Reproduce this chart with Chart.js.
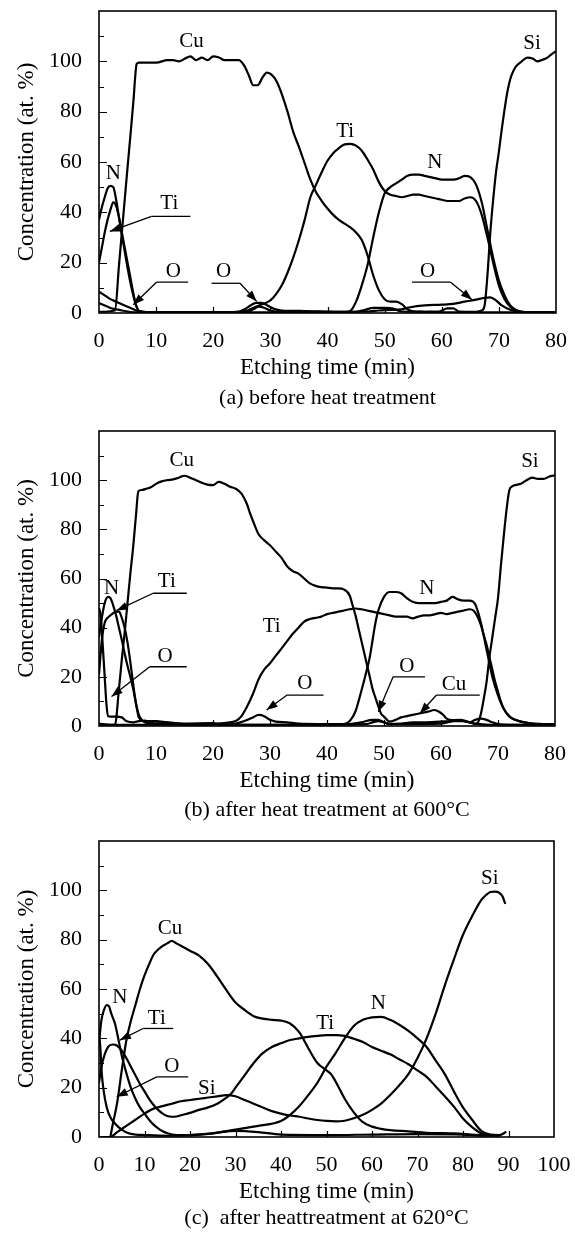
<!DOCTYPE html>
<html><head><meta charset="utf-8">
<script src="https://cdn.jsdelivr.net/npm/chart.js@4.4.1/dist/chart.umd.min.js"></script>
<style>
html,body{margin:0;padding:0;background:#fff;}
.p{position:absolute;left:0;width:575px;}
canvas{display:block;}
</style></head><body>
<div class="p" style="top:0;height:410px"><canvas id="ca" width="575" height="410"></canvas></div>
<div class="p" style="top:410px;height:413px"><canvas id="cb" width="575" height="413"></canvas></div>
<div class="p" style="top:823px;height:414px"><canvas id="cc" width="575" height="414"></canvas></div>
<script>
// ---------- Panel (a): before heat treatment  [time (min), at.%] ----------
const aCu = [[0,0.5],[2.8,1],[3.5,19],[4,32],[4.5,45],[5,58],[5.5,70.5],[6,83.5],[6.6,99],[7,99.5],[8,99.5],[10,99.5],[12,100.5],[13,100.5],[14,100],[15,101],[16,102],[17,100.5],[18,101.5],[19,100.5],[20,102],[21,101.5],[22,100.5],[23,100.5],[24.5,100.5],[25.5,98],[26.3,94],[27,90.5],[27.8,90.5],[28.6,93.5],[29.4,95.5],[30.3,94.5],[31.1,92],[32,87],[33,80],[34,72],[35,66],[36,59.5],[37,53],[38,48],[39,44.5],[40,41.5],[41,39],[42,37],[43,35.5],[44,34],[45,32],[46,29],[47,23],[48,15],[49,9],[50,5.5],[51,4.5],[52,4.5],[53,3.5],[54,1.5],[55,0.7],[57,0.5],[60,0.3],[70,0.3],[80,0.3]];
const aN = [[0,37],[0.5,42],[1,46],[1.5,49.5],[2,50.5],[2.5,50],[3,45],[3.5,38],[4,31],[4.5,24.5],[5,18],[5.5,12],[6,7],[6.5,3],[7,0.8],[8,0.3],[15,0.3],[25,0.3],[35,0.3],[43,0.3],[44,0.8],[45,4.5],[46,11],[47,19],[48,30],[49,40],[50,47.5],[51,50],[52,51.5],[53,53],[54,54.5],[55,55],[56,55],[57,54.5],[58,54],[59,53.5],[60,53],[61,53],[62,53],[63,53.5],[64,54.5],[65,54],[66,51],[67,44],[68,33],[69,22],[70,13],[71,7],[72,3],[73,1.2],[74,0.5],[77,0.3],[80,0.3]];
const aTi = [[0,20],[0.5,26],[1,32],[1.5,37],[2,41],[2.5,44],[3,42.5],[3.5,38],[4,32],[4.5,26],[5,20],[5.5,14],[6,8],[6.5,3],[7,0.8],[10,0.3],[20,0.3],[25,0.5],[26,1],[27,2],[28,3],[29,3.8],[30,5],[31,7.5],[32,11],[33,16],[34,22],[35,29],[36,37],[37,46],[38,51],[39,56],[40,60.5],[41,63.5],[42,65.5],[43,67],[44,67.2],[45,66.5],[46,64.5],[47,61],[48,57],[49,52],[50,48.5],[51,47],[52,46.5],[53,46],[54,46.5],[55,47],[56,47],[57,46.5],[58,46],[59,45.5],[60,45],[61,44.5],[62,44.5],[63,44.5],[64,45.5],[65,46],[66,44.5],[67,39],[68,30],[69,20],[70,11],[71,5.5],[72,2.5],[73,1],[74,0.5],[77,0.3],[80,0.3]];
const aSi = [[0,4],[1,3],[2,2],[3,1.5],[4,1],[5,0.6],[6,0.3],[20,0.3],[26,0.5],[27,1.5],[28,2.5],[29,2],[30,1],[32,0.5],[45,0.5],[46.5,1.2],[48,2],[50,2],[51.5,1.8],[52.5,0.8],[54,0.5],[59.5,0.6],[61,1.8],[62,1.8],[63,0.6],[66,0.5],[67,1],[67.5,3],[68,15],[68.5,32],[69,45],[69.5,56],[70,64],[70.5,73],[71,81],[71.5,88],[72,93],[72.5,96],[73,98],[74,100],[75,101.5],[76,101],[76.7,100],[77.5,100.5],[78.5,101.5],[79.3,103],[80,104]];
const aO = [[0,8.5],[1,7],[2,5.5],[3,4.5],[4,3.5],[5,2.5],[6,1.5],[7,0.6],[10,0.3],[22,0.3],[24.5,0.6],[25.5,1.5],[26.5,3],[27.5,4],[28.5,4],[29.5,3],[30.5,1.8],[32,1],[36,0.8],[42,0.5],[47,0.6],[49,1],[51,1.2],[53,1.5],[54.5,2.3],[57,3],[60,3.3],[62,3.6],[64,4.5],[66,5.3],[67.5,6],[68.5,6.2],[69.5,5],[70.5,3],[72,1.3],[73.5,0.5],[80,0.3]];

// ---------- Panel (b): after heat treatment at 600°C ----------
const bN = [[0,36],[0.5,44],[1,50],[1.6,52.5],[2,52],[2.5,49],[3,45],[3.5,40],[4,35],[4.5,29.5],[5,24.5],[5.5,20],[6,15],[6.5,9],[7,4.5],[7.5,2.5],[8,1.5],[9,1],[12,0.8],[20,0.5],[30,0.5],[40,0.5],[43,0.8],[44,2],[45,6],[46,14],[47,23],[47.5,28],[48,35],[48.5,42],[49,47],[50,52.5],[51,54.5],[52,54.5],[53,54],[54,52],[55,50.5],[56,50],[57,50],[58,50],[59,50],[60,50.5],[61,51],[62,52.5],[63,51.5],[64,51],[65,51],[66,49.5],[67,42],[68,31],[69,20],[70,12.5],[71,7],[72,3.8],[73,2.5],[74,1.8],[76,1],[80,0.8]];
const bTi = [[0,21],[0.5,35],[1,42],[1.5,44],[2,45],[3,46.5],[3.5,46.5],[4,44],[4.5,40],[5,34],[5.5,26],[6,17],[6.5,9],[7,3.5],[8,2],[10,2],[12,1.5],[15,1],[20,1],[23,1.5],[24,2],[25,4],[26,8],[27,13],[28,19],[29,23],[30,25.5],[31,28.5],[32,31.5],[33,34.5],[34,37.5],[35,40],[36,42.5],[37,43.5],[38,44],[39,44.5],[40,45.5],[41,46],[42,46.5],[43,47],[44,47.5],[45,47.8],[46,47.5],[47,47],[48,46.5],[49,46],[50,45.5],[51,45],[52,44.5],[54,44.5],[55,43.8],[56,44.5],[57,45],[58,45],[59,45.5],[60,46],[61,45.5],[62,46],[63,46.5],[64,47],[65,47.5],[65.7,47],[66.5,44],[67,41],[67.5,37],[68,33],[68.5,28],[69,23],[69.5,18],[70,14],[70.5,10],[71,7],[72,4],[73,2.5],[74,1.8],[76,1],[80,0.8]];
const bCu = [[0,0.5],[2.8,0.5],[3.5,15],[4,27],[4.5,38],[5,50],[5.5,62],[6,73],[6.5,86],[6.9,95.5],[7.5,96],[8.4,96.6],[9,97],[10,98.5],[11,99.5],[12,100],[13,100.3],[14,101],[15,101.8],[16,101],[17,100],[18,99],[19,98.2],[20,98],[21,99.3],[22,98.5],[23,97.3],[24,96.5],[25,94.5],[25.5,92.5],[26,90],[26.5,86.5],[27,83.5],[28,78],[29,75.5],[30,73.5],[31,71],[32,68.5],[33,65],[34,63],[35,62],[36,60],[37,58],[38,57],[39,56.5],[40,56.3],[41,56],[42,56],[43,55.5],[44,53],[44.5,49],[45,45],[45.5,40],[46,35],[46.5,30],[47,25],[47.5,20],[48,15],[48.5,11.5],[49,8],[49.5,5],[50,3.8],[51,1.8],[52,2.5],[53,3.5],[54,4],[55,4.5],[56,5],[57,5.5],[58,6],[58.7,6.5],[59.5,6],[60.4,4.5],[61,3],[62,2.4],[63,2.5],[64,2],[66,1],[70,0.5],[80,0.5]];
const bSi = [[0,1],[2,0.5],[20,0.5],[40,0.5],[47,0.8],[48,1.5],[49,2],[50,1.5],[51,0.8],[60,1],[62,2],[63.5,2.5],[65,1.5],[66,0.8],[66.5,1.5],[67,5],[67.5,11],[68,18],[68.5,28],[69,36],[69.5,44],[70,52],[70.5,65],[71,77],[71.5,88],[72,96],[72.5,97.5],[73,98],[74,98.5],[75,100],[76,101],[77,100.5],[78,100.5],[79,101.5],[80,102]];
const bO = [[0,48],[0.3,45],[0.6,35],[1,20],[1.3,9],[1.6,4],[2,3.8],[3,3.8],[4,3.5],[4.5,2.5],[5,1.8],[6,1.5],[7,2],[8,2.2],[9,1.5],[10,1],[12,1.5],[13,1],[15,0.8],[20,1.2],[21,0.5],[24,1],[26,2.5],[27,3.5],[28,4.5],[29,4],[30,2.5],[31,1.8],[33,1.5],[35,1],[40,0.8],[44,0.8],[46,1.5],[48,2.5],[49,2.5],[50,1.5],[51,0.8],[53,1],[55,1.5],[57,1.5],[60,1.8],[62,2],[64,2],[65,1.5],[66,2.5],[67,3],[68,2.5],[69,1.5],[70,0.8],[72,0.5],[80,0.5]];

// ---------- Panel (c): after heat treatment at 620°C ----------
const cN = [[0,38],[0.5,47],[1,51],[1.7,53.5],[2.2,53],[2.7,50],[3.5,46],[4,42],[5,33],[6,26],[7,20],[8,15.5],[9,12],[10,9.5],[11,7],[12,5],[13,3.5],[14,2.3],[15,1.5],[17,0.8],[20,0.8],[25,1.5],[30,3],[35,4.5],[40,6.5],[42,9],[44,12.5],[46,17],[48,22],[50,28.5],[52,34],[54,40],[56,45],[58,47.5],[60,48.5],[62,48.7],[64,47.5],[66,45.5],[68,43],[70,40],[72,36.5],[74,31],[76,25.5],[78,18.5],[80,12],[82,7],[84,2.5],[86,1],[88,0.8],[89,1.5],[89.5,2.2]];
const cTi = [[0,22],[0.5,28],[1,32],[2,36.5],[3,37.5],[4,37],[5,35],[6,32],[7,28.5],[8,25],[9,21.5],[10,18.5],[11,15.5],[12,13],[13,11],[14,9.5],[15,8.5],[16,8.2],[17,8.3],[18,8.8],[20,9.8],[22,11],[24,12],[26,13.5],[28,16],[29,17.5],[30,20],[32,25],[34,30],[36,34],[38,36.5],[40,38],[42,39.3],[44,40],[46,40.6],[48,41],[50,41.3],[52,41.3],[54,41],[56,39.8],[58,38.5],[60,36.5],[62,35],[64,33.5],[66,31.5],[68,29.5],[70,27],[72,24.4],[74,20.5],[76,16.5],[78,12.3],[80,7.5],[82,4],[84,1.5],[86,0.8],[88,0.8]];
const cCu = [[0,0],[2.4,0],[3,5],[4,14],[5,27],[6,39],[7,47],[8,53.5],[9,60],[10,65.5],[11,70],[12,74],[13,76],[14,77.5],[15,78.5],[16,79.5],[17,78.5],[18,77.5],[19,76.5],[20,75.5],[22,73.5],[24,70],[26,65],[28,59.5],[30,54.5],[32,51.5],[34,49],[36,48],[38,47.5],[40,47.2],[42,46],[44,42.5],[46,36],[48,30],[50,27],[51,25.5],[52,22.5],[54,15.5],[56,10],[58,6],[60,4.2],[62,3.3],[64,2.8],[68,2.3],[72,1.7],[78,1.5],[84,0.8],[88,0.8]];
const cSi = [[0,0],[2.4,0],[4,2],[6,4.5],[8,7],[10,9.5],[12,11.5],[14,12.5],[16,13.5],[18,14.5],[20,15],[22,15.5],[24,16],[26,16.5],[28,17],[30,16.5],[32,15],[34,13.5],[36,12],[38,10.5],[40,9.5],[42,8.7],[44,8.2],[46,7.5],[48,6.9],[50,6.5],[52,6.3],[54,6.6],[56,7.6],[58,9],[60,11],[62,13.5],[64,17],[66,21],[68,25.5],[70,32],[72,40],[74,50],[76,61.5],[78,72],[80,82],[82,89.5],[84,96],[85,98],[86,99.3],[87,99.5],[88,99],[88.7,97.5],[89.3,94.5]];
const cO = [[0,42],[0.3,36],[0.6,26],[1,19],[1.7,12],[2.5,8],[3.5,5.5],[5,3],[6.5,1.5],[8,1],[10,0.8],[15,0.5],[20,0.8],[25,1.5],[30,2.5],[35,2],[40,1],[50,0.8],[60,1],[70,1.2],[80,1],[85,0.5],[88,0.5]];

// ---------- Text ----------
const xTitle = 'Etching time (min)';
const yTitle = 'Concentration (at. %)';
const captions = ['(a) before heat treatment', '(b) after heat treatment at 600°C', '(c)  after heattreatment at 620°C'];

// Curve labels: text, anchor [time, at.%], optional underline [t1, t2, at.%], optional arrow tip [time, at.%]
const notesA = [
  {text:'Cu', at:[16.2,108]}, {text:'Si', at:[75.8,107]}, {text:'Ti', at:[43.1,72]}, {text:'N', at:[58.8,60]},
  {text:'N', at:[2.5,55.5]},
  {text:'Ti', at:[12.3,43.5], under:[9.2,16.0,38.4], from:'l', tip:[1.9,32.4]},
  {text:'O', at:[13,16.5], under:[10.1,15.6,12.3], from:'l', tip:[6,3.3]},
  {text:'O', at:[21.8,16.5], under:[19.7,24.7,11.8], from:'r', tip:[27.6,4.6]},
  {text:'O', at:[57.5,16.5], under:[54.8,61.5,12.3], from:'r', tip:[65.3,5.3]}
];
const notesB = [
  {text:'Cu', at:[14.5,108]}, {text:'Si', at:[75.6,107.5]}, {text:'N', at:[2.2,56]},
  {text:'Ti', at:[11.9,58.7], under:[9.5,15.4,54], from:'l', tip:[3.1,47]},
  {text:'O', at:[11.6,28.2], under:[8.9,15.4,24.1], from:'l', tip:[2.2,12]},
  {text:'Ti', at:[30.3,40.4]},
  {text:'O', at:[36.1,17.3], under:[33,39.4,12.6], from:'l', tip:[29.4,6.5]},
  {text:'N', at:[57.5,56]},
  {text:'O', at:[54,24.1], under:[51.6,57.2,20], from:'l', tip:[49,5.8]},
  {text:'Cu', at:[62.3,16.7], under:[59.2,66.8,12.6], from:'l', tip:[56.3,5.1]}
];
const notesC = [
  {text:'Cu', at:[15.6,84.5]}, {text:'N', at:[4.6,56.5]},
  {text:'Ti', at:[12.7,48], under:[9.7,16.3,44], from:'l', tip:[4.6,39.3]},
  {text:'O', at:[16,28.5], under:[12.7,19.6,24.4], from:'l', tip:[3.9,16.3]},
  {text:'Si', at:[23.7,19.5]}, {text:'Ti', at:[49.7,46]}, {text:'N', at:[61.4,54]}, {text:'Si', at:[85.9,104.7]}
];

const FONT = "'Liberation Serif', 'Times New Roman', serif";
Chart.defaults.font.family = FONT;
Chart.defaults.color = '#000';

const decor = {
  id: 'decor',
  afterDraw(chart, args, opts) {
    const {ctx, chartArea: a, scales: {x, y}} = chart;
    ctx.save();
    ctx.strokeStyle = '#000';
    ctx.fillStyle = '#000';
    ctx.lineWidth = 1.6;
    ctx.strokeRect(a.left, a.top, a.right - a.left, a.bottom - a.top);
    // inward tick marks
    ctx.lineWidth = 1.2;
    ctx.beginPath();
    for (let v = 10; v < y.max; v += 10) {
      const py = Math.round(y.getPixelForValue(v)) + 0.5;
      ctx.moveTo(a.left, py); ctx.lineTo(a.left + (v % 20 === 0 ? 8 : 5), py);
    }
    for (let t = 10; t < x.max; t += 10) {
      const px = Math.round(x.getPixelForValue(t)) + 0.5;
      ctx.moveTo(px, a.bottom); ctx.lineTo(px, a.bottom - 6);
    }
    ctx.stroke();
    // curve labels
    ctx.font = '21px ' + FONT;
    ctx.textAlign = 'center';
    ctx.textBaseline = 'middle';
    for (const n of opts.notes) {
      ctx.fillText(n.text, x.getPixelForValue(n.at[0]), y.getPixelForValue(n.at[1]));
      if (n.under) {
        const x1 = x.getPixelForValue(n.under[0]), x2 = x.getPixelForValue(n.under[1]);
        const uy = y.getPixelForValue(n.under[2]);
        ctx.lineWidth = 1.3;
        ctx.beginPath(); ctx.moveTo(x1, uy); ctx.lineTo(x2, uy); ctx.stroke();
        if (n.tip) {
          const sx = n.from === 'l' ? x1 : x2;
          const tx = x.getPixelForValue(n.tip[0]), ty = y.getPixelForValue(n.tip[1]);
          ctx.beginPath(); ctx.moveTo(sx, uy); ctx.lineTo(tx, ty); ctx.stroke();
          const ang = Math.atan2(ty - uy, tx - sx);
          const L = 11, W = 4;
          ctx.beginPath();
          ctx.moveTo(tx, ty);
          ctx.lineTo(tx - L * Math.cos(ang) + W * Math.sin(ang), ty - L * Math.sin(ang) - W * Math.cos(ang));
          ctx.lineTo(tx - L * Math.cos(ang) - W * Math.sin(ang), ty - L * Math.sin(ang) + W * Math.cos(ang));
          ctx.closePath(); ctx.fill();
        }
      }
    }
    // caption
    ctx.font = '22px ' + FONT;
    ctx.fillText(opts.caption, (a.left + a.right) / 2, a.bottom + opts.capOffset);
    ctx.restore();
  }
};

function makeChart(id, series, xMax, pad, caption, capOffset, notes) {
  return new Chart(document.getElementById(id), {
    type: 'line',
    data: {
      datasets: series.map(s => ({
        data: s.map(p => ({x: p[0], y: p[1]})),
        borderColor: '#000', borderWidth: 2.2, pointRadius: 0, fill: false,
        cubicInterpolationMode: 'monotone'
      }))
    },
    options: {
      responsive: false, animation: false, events: [],
      layout: {padding: pad},
      plugins: {legend: {display: false}, tooltip: {enabled: false},
        decor: {caption, capOffset, notes}},
      scales: {
        x: {type: 'linear', min: 0, max: xMax,
          grid: {display: false, drawTicks: false}, border: {display: false},
          ticks: {stepSize: 10, padding: 15, font: {size: 22}, color: '#000', maxRotation: 0, autoSkip: false},
          title: {display: true, text: xTitle, font: {size: 23}, color: '#000', padding: {top: 0, bottom: 1}},
          afterFit: s => { s.height = 70; s.paddingLeft = 0; s.paddingRight = 0; }},
        y: {type: 'linear', min: 0, max: 120,
          grid: {display: false, drawTicks: false}, border: {display: false},
          ticks: {stepSize: 20, padding: 17, font: {size: 22}, color: '#000',
            callback: v => (v <= 100 ? String(v) : null)},
          title: {display: true, text: yTitle, font: {size: 23}, color: '#000', padding: {top: 13, bottom: 0}},
          afterFit: s => { s.width = 99; s.paddingTop = 0; s.paddingBottom = 0; }}
      }
    },
    plugins: [decor]
  });
}

makeChart('ca', [aCu, aN, aTi, aSi, aO], 80, {top: 11, left: 0, right: 19, bottom: 27}, captions[0], 85, notesA);
makeChart('cb', [bCu, bN, bTi, bSi, bO], 80, {top: 21, left: 0, right: 20, bottom: 27}, captions[1], 84, notesB);
makeChart('cc', [cCu, cN, cTi, cSi, cO], 100, {top: 18, left: 0, right: 21, bottom: 30}, captions[2], 81, notesC);
</script>
</body></html>
